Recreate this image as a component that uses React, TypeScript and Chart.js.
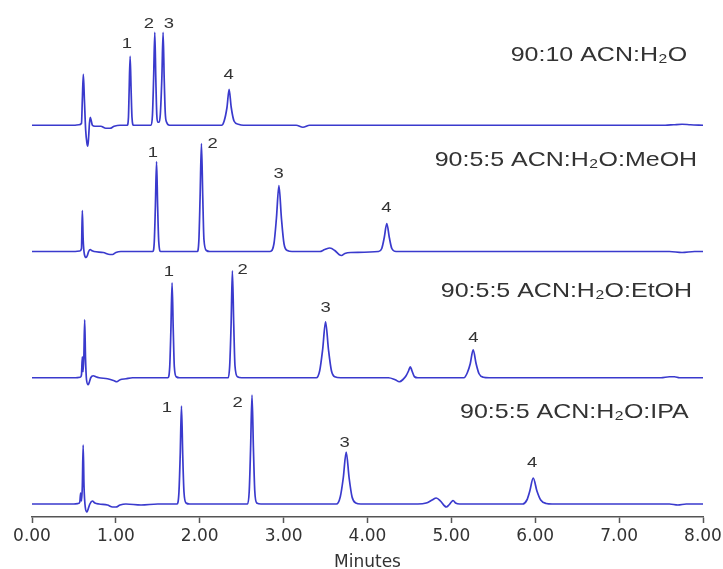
import React, { useEffect, useRef } from "react";
import { Chart, registerables } from "chart.js";

Chart.register(...registerables);

// ---------- data (time in minutes, detector signal in arbitrary units) ----------
const xTickValues = [0, 1, 2, 3, 4, 5, 6, 7, 8];

const traceTitles = [
  "90:10 ACN:H₂O",
  "90:5:5 ACN:H₂O:MeOH",
  "90:5:5 ACN:H₂O:EtOH",
  "90:5:5 ACN:H₂O:IPA",
];

const trace1Points: [number, number][] = [
  [0.0, 0], [0.5, 0], [0.56, 0.5], [0.59, 2], [0.6, 25], [0.612, 51], [0.625, 25], [0.64, -5],
  [0.655, -18], [0.665, -21], [0.675, -12], [0.685, 2], [0.695, 8], [0.705, 5], [0.72, 0],
  [0.75, -1], [0.82, -1], [0.88, -3], [0.93, -3], [0.98, -1], [1.05, 0], [1.135, 0], [1.15, 8],
  [1.158, 34], [1.17, 69], [1.182, 34], [1.192, 8], [1.21, 0], [1.42, 0], [1.436, 10],
  [1.45, 47], [1.464, 93], [1.476, 47], [1.488, 10], [1.5, 3], [1.515, 3], [1.53, 11],
  [1.548, 47], [1.563, 93], [1.576, 47], [1.589, 12], [1.605, 3], [1.64, 0], [2.26, 0],
  [2.29, 4], [2.325, 18], [2.35, 36], [2.375, 18], [2.41, 4], [2.46, 1], [2.52, 0], [3.15, 0],
  [3.23, -2], [3.31, 0], [7.55, 0], [7.65, 0.5], [7.75, 1], [7.85, 0.5], [8.0, 0],
];

const trace2Points: [number, number][] = [
  [0.0, 0], [0.5, 0], [0.57, 0.5], [0.59, 3], [0.6, 41], [0.61, 12], [0.625, -3], [0.645, -6],
  [0.66, -4], [0.675, 0], [0.695, 2], [0.71, 1], [0.74, 0], [0.85, -1], [0.93, -3], [0.96, -3],
  [1.0, -1], [1.06, 0], [1.44, 0], [1.458, 10], [1.471, 45], [1.485, 90], [1.498, 45],
  [1.511, 10], [1.535, 0], [1.97, 0], [1.99, 12], [2.004, 54], [2.02, 108], [2.036, 54],
  [2.05, 12], [2.08, 1], [2.12, 0], [2.84, 0], [2.885, 8], [2.914, 33], [2.944, 66],
  [2.974, 33], [3.004, 8], [3.045, 1], [3.1, 0], [3.43, 0], [3.49, 2], [3.55, 3.5], [3.61, 1],
  [3.66, -3], [3.69, -4], [3.73, -2], [3.8, -1], [4.13, 0], [4.17, 3], [4.2, 14], [4.23, 28],
  [4.26, 14], [4.29, 3], [4.34, 0], [7.6, 0], [7.75, -1], [7.9, 0], [8.0, 0],
];

const trace3Points: [number, number][] = [
  [0.0, 0], [0.52, 0], [0.575, 0.5], [0.59, 3], [0.6, 21], [0.608, 6], [0.618, 20],
  [0.628, 58], [0.638, 20], [0.65, -2], [0.67, -7], [0.685, -4], [0.7, 0], [0.73, 2],
  [0.76, 1], [0.8, 0], [0.9, -1], [0.98, -3], [1.01, -4], [1.05, -2], [1.12, -1], [1.2, 0],
  [1.62, 0], [1.642, 11], [1.656, 48], [1.67, 95], [1.684, 48], [1.697, 11], [1.72, 1],
  [1.76, 0], [2.34, 0], [2.357, 12], [2.374, 54], [2.389, 107], [2.405, 54], [2.42, 12],
  [2.45, 1], [2.5, 0], [3.39, 0], [3.43, 7], [3.465, 28], [3.5, 56], [3.535, 28], [3.57, 7],
  [3.61, 1], [3.68, 0], [4.25, 0], [4.33, -2], [4.38, -4], [4.42, -2], [4.46, 2], [4.49, 7],
  [4.51, 11], [4.53, 7], [4.56, 1], [4.6, 0], [5.15, 0], [5.19, 5], [5.225, 14], [5.26, 28],
  [5.295, 14], [5.33, 4], [5.38, 0.5], [5.45, 0], [7.5, 0], [7.6, 1], [7.66, 1], [7.72, 0],
  [8.0, 0],
];

const trace4Points: [number, number][] = [
  [0.0, 0], [0.5, 0], [0.55, 0.5], [0.57, 2], [0.58, 11], [0.59, 3], [0.6, 18], [0.61, 59],
  [0.62, 18], [0.635, -3], [0.655, -8], [0.67, -5], [0.69, 0], [0.72, 3], [0.75, 1], [0.8, 0],
  [0.9, -1], [0.96, -3], [1.0, -3], [1.05, -1], [1.12, 0], [1.3, -1], [1.5, 0], [1.73, 0],
  [1.752, 12], [1.767, 49], [1.782, 98], [1.797, 49], [1.812, 12], [1.837, 1], [1.88, 0],
  [2.57, 0], [2.59, 13], [2.606, 55], [2.623, 109], [2.64, 55], [2.656, 13], [2.68, 1],
  [2.73, 0], [3.63, 0], [3.675, 7], [3.711, 26], [3.746, 52], [3.781, 26], [3.816, 7],
  [3.86, 1], [3.92, 0], [4.6, 0], [4.7, 1], [4.77, 4], [4.82, 6], [4.87, 3], [4.92, -2],
  [4.94, -3], [4.97, -1], [5.0, 2], [5.02, 3.5], [5.05, 1], [5.1, 0], [5.85, 0], [5.9, 4],
  [5.935, 13], [5.976, 26], [6.02, 13], [6.065, 4], [6.13, 0.5], [6.2, 0], [7.6, 0],
  [7.7, -1], [7.8, 0], [8.0, 0],
];

// peak-number annotations: [label, time, signal]
const trace1Labels: [string, number, number][] = [
  ["1", 1.131, 82], ["2", 1.393, 102], ["3", 1.631, 102], ["4", 2.345, 51],
];
const trace2Labels: [string, number, number][] = [
  ["1", 1.44, 99], ["2", 2.155, 108], ["3", 2.94, 78], ["4", 4.226, 44],
];
const trace3Labels: [string, number, number][] = [
  ["1", 1.631, 106], ["2", 2.512, 108], ["3", 3.5, 70], ["4", 5.262, 40],
];
const trace4Labels: [string, number, number][] = [
  ["1", 1.607, 96], ["2", 2.452, 101], ["3", 3.726, 61], ["4", 5.964, 41],
];

// title anchors: [time of right edge, signal of text centre]
const titleAnchors: [number, number][] = [
  [7.81, 70], [7.93, 91], [7.87, 87], [7.83, 92],
];

const signalMin = -13;
const signalMax = 113.25;

// ---------- chart ----------
const allPoints = [trace1Points, trace2Points, trace3Points, trace4Points];
const allLabels = [trace1Labels, trace2Labels, trace3Labels, trace4Labels];

const FONT = "'DejaVu Sans', sans-serif";
const ARIAL = "'Liberation Sans', Arial, sans-serif";
const LINE = "#3a3acd";
const TEXT = "#333333";
const STRETCH = 1.19;

function stretchedText(ctx: any, txt: string, x: number, y: number, align: "center" | "right") {
  ctx.save();
  ctx.translate(x, y);
  ctx.scale(STRETCH, 1);
  ctx.textAlign = align;
  ctx.textBaseline = "middle";
  ctx.fillText(txt, 0, 0);
  ctx.restore();
}

const annotatePlugin = {
  id: "annotate",
  afterDatasetsDraw(chart: any) {
    const ctx = chart.ctx;
    const xs = chart.scales.x;
    ctx.save();
    ctx.fillStyle = TEXT;
    allLabels.forEach((labels, i) => {
      const ys = chart.scales["y" + i];
      ctx.font = `15.5px ${ARIAL}`;
      labels.forEach(([txt, t, v]) => {
        stretchedText(ctx, txt, xs.getPixelForValue(t), ys.getPixelForValue(v), "center");
      });
      const [tt, tv] = titleAnchors[i];
      ctx.font = `21px ${ARIAL}`;
      stretchedText(ctx, traceTitles[i], xs.getPixelForValue(tt), ys.getPixelForValue(tv), "right");
    });
    ctx.restore();
  },
};

export default function App() {
  const ref = useRef<HTMLCanvasElement | null>(null);

  useEffect(() => {
    if (!ref.current) return;
    const yScales: any = {};
    allPoints.forEach((_, i) => {
      yScales["y" + i] = {
        type: "linear",
        position: "left",
        stack: "traces",
        stackWeight: 1,
        weight: 10 - i,
        min: signalMin,
        max: signalMax,
        display: false,
      };
    });
    const chart = new Chart(ref.current, {
      type: "line",
      data: {
        datasets: allPoints.map((pts, i) => ({
          label: traceTitles[i],
          data: pts.map(([x, y]) => ({ x, y })),
          yAxisID: "y" + i,
          borderColor: LINE,
          borderWidth: 1.7,
          pointRadius: 0,
          fill: false,
          cubicInterpolationMode: "monotone" as const,
          clip: false as any,
        })),
      },
      options: {
        animation: false,
        responsive: true,
        maintainAspectRatio: false,
        layout: { padding: { left: 32, right: 20, top: 12, bottom: 0 } },
        plugins: { legend: { display: false }, tooltip: { enabled: false } },
        scales: {
          x: {
            type: "linear",
            position: "bottom",
            min: 0,
            max: 8,
            afterBuildTicks: (axis: any) => {
              axis.ticks = xTickValues.map((v) => ({ value: v }));
            },
            afterFit: (axis: any) => {
              axis.height = 52;
            },
            ticks: {
              color: TEXT,
              font: { family: FONT, size: 17, lineHeight: 1.6 },
              padding: 0,
              maxRotation: 0,
              callback: (v: any) => Number(v).toFixed(2),
            },
            grid: {
              display: true,
              drawOnChartArea: false,
              drawTicks: true,
              tickLength: 6,
              tickColor: "#555555",
              tickWidth: 1.5,
            },
            border: { display: true, color: "#555555", width: 1.5 },
            title: {
              display: true,
              text: "Minutes",
              color: TEXT,
              font: { family: FONT, size: 17, lineHeight: 0.75 },
              padding: { top: 0, bottom: 0 },
            },
          },
          ...yScales,
        },
      },
      plugins: [annotatePlugin],
    });
    return () => chart.destroy();
  }, []);

  return (
    <div style={{ position: "fixed", left: 0, top: 0, width: 723, height: 569, background: "#fff" }}>
      <canvas ref={ref} />
    </div>
  );
}
